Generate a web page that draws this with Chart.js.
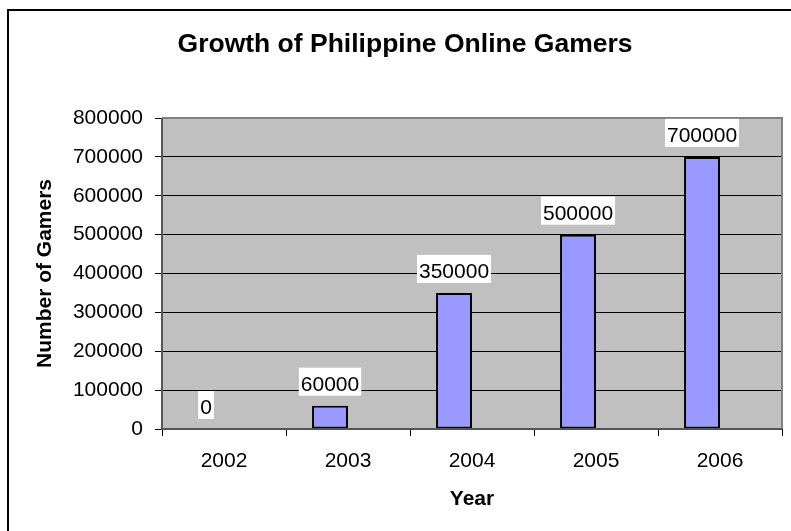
<!DOCTYPE html>
<html>
<head>
<meta charset="utf-8">
<script src="https://cdn.jsdelivr.net/npm/chart.js@4.4.0/dist/chart.umd.min.js"></script>
<style>
  html, body { margin: 0; padding: 0; background: #fff; }
  #wrap { width: 791px; height: 531px; }
</style>
</head>
<body>
<div id="wrap"><canvas id="myChart"></canvas></div>
<script>
const years = ["2002", "2003", "2004", "2005", "2006"];
const gamers = [0, 60000, 350000, 500000, 700000];
const emptySeries = [null, null, null, null, null];
const yTicks = [0, 100000, 200000, 300000, 400000, 500000, 600000, 700000, 800000];

const FONT = "'Liberation Sans', Arial, sans-serif";

// page frame, grey plot area and title
const framePlugin = {
  id: "frame",
  beforeDraw(chart) {
    const c = chart.ctx;
    const a = chart.chartArea;
    c.save();
    c.fillStyle = "#fff";
    c.fillRect(0, 0, chart.width, chart.height);
    c.strokeStyle = "#000";
    c.lineWidth = 2;
    c.beginPath();
    c.moveTo(8, chart.height + 5);
    c.lineTo(8, 10);
    c.lineTo(chart.width + 5, 10);
    c.stroke();
    c.fillStyle = "#C0C0C0";
    c.fillRect(a.left, a.top, a.right - a.left, a.bottom - a.top);
    c.fillStyle = "#000";
    c.font = "bold 26.5px " + FONT;
    c.textAlign = "center";
    c.textBaseline = "middle";
    c.fillText("Growth of Philippine Online Gamers", 405, 45);
    c.restore();
  },
  afterDatasetsDraw(chart) {
    const c = chart.ctx;
    const a = chart.chartArea;
    c.save();
    c.lineWidth = 2;
    c.strokeStyle = "#808080";
    c.beginPath();
    c.moveTo(a.left, a.top);
    c.lineTo(a.right, a.top);
    c.lineTo(a.right, a.bottom);
    c.stroke();
    c.strokeStyle = "#555";
    c.beginPath();
    c.moveTo(a.left, a.top);
    c.lineTo(a.left, a.bottom);
    c.lineTo(a.right, a.bottom);
    c.stroke();

    // value labels on white boxes
    c.font = "21px " + FONT;
    c.textAlign = "center";
    c.textBaseline = "alphabetic";
    const meta = chart.getDatasetMeta(0);
    meta.data.forEach((bar, i) => {
      const txt = String(gamers[i]);
      const w = c.measureText(txt).width + 4;
      const bottom = bar.y - 10;
      c.fillStyle = "#fff";
      c.fillRect(bar.x - w / 2, bottom - 28, w, 28);
      c.fillStyle = "#000";
      c.fillText(txt, bar.x, bottom - 5);
    });
    c.restore();
  }
};

const ctx = document.getElementById("myChart").getContext("2d");
const myChart = new Chart(ctx, {
  type: "bar",
  data: {
    labels: years,
    datasets: [
      {
        label: "Gamers",
        data: gamers,
        backgroundColor: "#9999FF",
        borderColor: "#000",
        borderWidth: 2,
        borderSkipped: false,
      },
      {
        label: "",
        data: emptySeries,
      },
    ],
  },
  options: {
    responsive: true,
    maintainAspectRatio: false,
    animation: false,
    layout: {
      padding: { top: 118, right: 9, left: 0, bottom: 0 },
    },
    datasets: {
      bar: {
        categoryPercentage: 0.58,
        barPercentage: 1.0,
      },
    },
    scales: {
      x: {
        offset: true,
        grid: {
          offset: true,
          drawOnChartArea: false,
          drawTicks: true,
          tickLength: 7,
          color: "#000",
        },
        border: { display: false },
        ticks: {
          color: "#000",
          padding: 13,
          font: { family: FONT, size: 21 },
        },
        title: {
          display: true,
          text: "Year",
          color: "#000",
          font: { family: FONT, size: 21, weight: "bold" },
          padding: { top: 0, bottom: 19 },
        },
        afterFit(scale) {
          scale.height = 102;
        },
      },
      y: {
        min: 0,
        max: 800000,
        afterBuildTicks(scale) {
          scale.ticks = yTicks.map((v) => ({ value: v }));
        },
        grid: {
          color: "#000",
          lineWidth: 1,
          tickLength: 7,
        },
        border: { display: false },
        ticks: {
          color: "#000",
          padding: 12,
          font: { family: FONT, size: 21 },
          callback: (v) => String(v),
        },
        title: {
          display: true,
          text: "Number of Gamers",
          color: "#000",
          font: { family: FONT, size: 21, weight: "bold" },
          padding: { top: 33, bottom: 0 },
        },
        afterFit(scale) {
          scale.width = 162;
        },
      },
    },
    plugins: {
      legend: { display: false },
      tooltip: { enabled: false },
    },
  },
  plugins: [framePlugin],
});
</script>
</body>
</html>
